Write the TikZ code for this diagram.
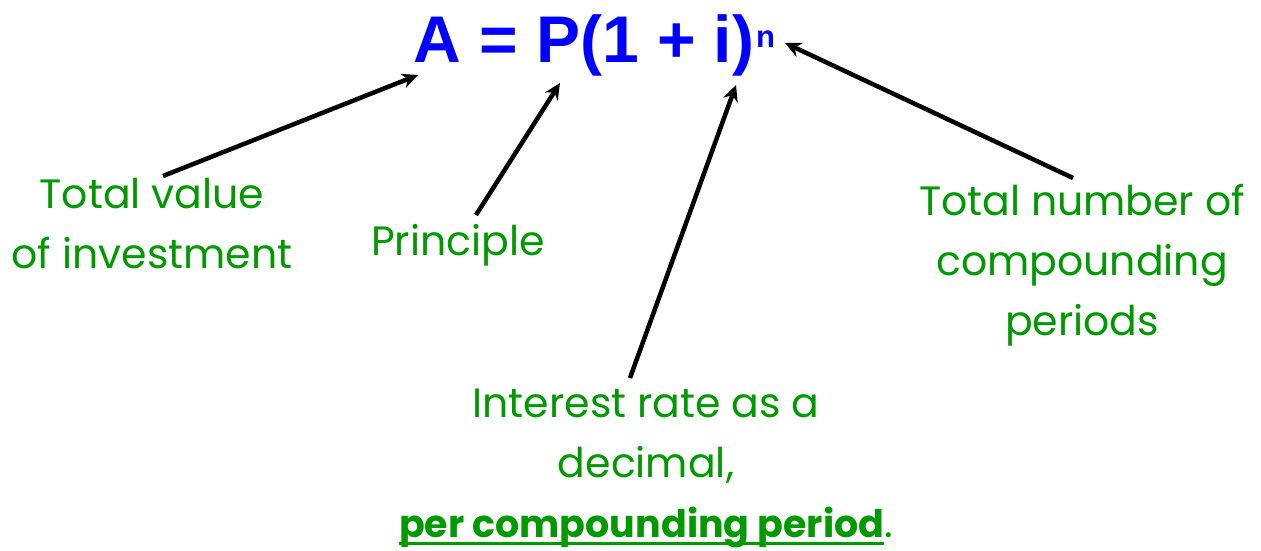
\documentclass[tikz,border=0pt]{standalone}
\usepackage{fontspec}
\setmainfont{Poppins}
\newfontfamily\formulafont{Liberation Sans}
\usetikzlibrary{arrows.meta}
\definecolor{lblgreen}{RGB}{0,153,0}
\definecolor{fblue}{RGB}{0,0,255}
\newcommand\myuline[1]{\setbox0\hbox{#1}\rlap{\rule[-8pt]{\wd0}{3pt}}\box0}
\tikzset{
  lbl/.style={text=lblgreen, font=\fontsize{41}{60}\selectfont, align=center, inner sep=0pt, anchor=base},
  ptr/.style={draw=black, line width=4.5pt, -{Stealth[length=16pt,width=15pt]}},
}
\begin{document}
\begin{tikzpicture}[x=1pt,y=-1pt]
\useasboundingbox (0,0) rectangle (1261,551);
\node[anchor=base west, inner sep=0pt, text=fblue, font=\formulafont\bfseries\fontsize{66}{70}\selectfont] (eq) at (413,63) {A = P(1 + i)};
\node[anchor=base west, inner sep=0pt, text=fblue, font=\formulafont\bfseries\fontsize{31}{36}\selectfont] (n) at (756,48) {n};
\coordinate (tA) at (418,75);
\coordinate (tP) at (560,83);
\coordinate (ti) at (736,85);
\coordinate (tn) at (785,43);

\node[lbl] (total) at (152,268) {Total value\\of investment};
\node[lbl] (princ) at (458,255) {Principle};
\node[lbl] (num) at (1082,335) {Total number of\\compounding\\periods};
\node[lbl] (rate) at (646,537) {Interest rate as a\\decimal,\\\myuline{\fontsize{38}{60}\selectfont\bfseries per compounding period}.};

\coordinate (sA) at (163,176);
\coordinate (sP) at (476,215);
\coordinate (si) at (630,378);
\coordinate (sn) at (1073,178);
\draw[ptr] (sA) -- (tA);
\draw[ptr] (sP) -- (tP);
\draw[ptr] (si) -- (ti);
\draw[ptr] (sn) -- (tn);
\end{tikzpicture}
\end{document}
